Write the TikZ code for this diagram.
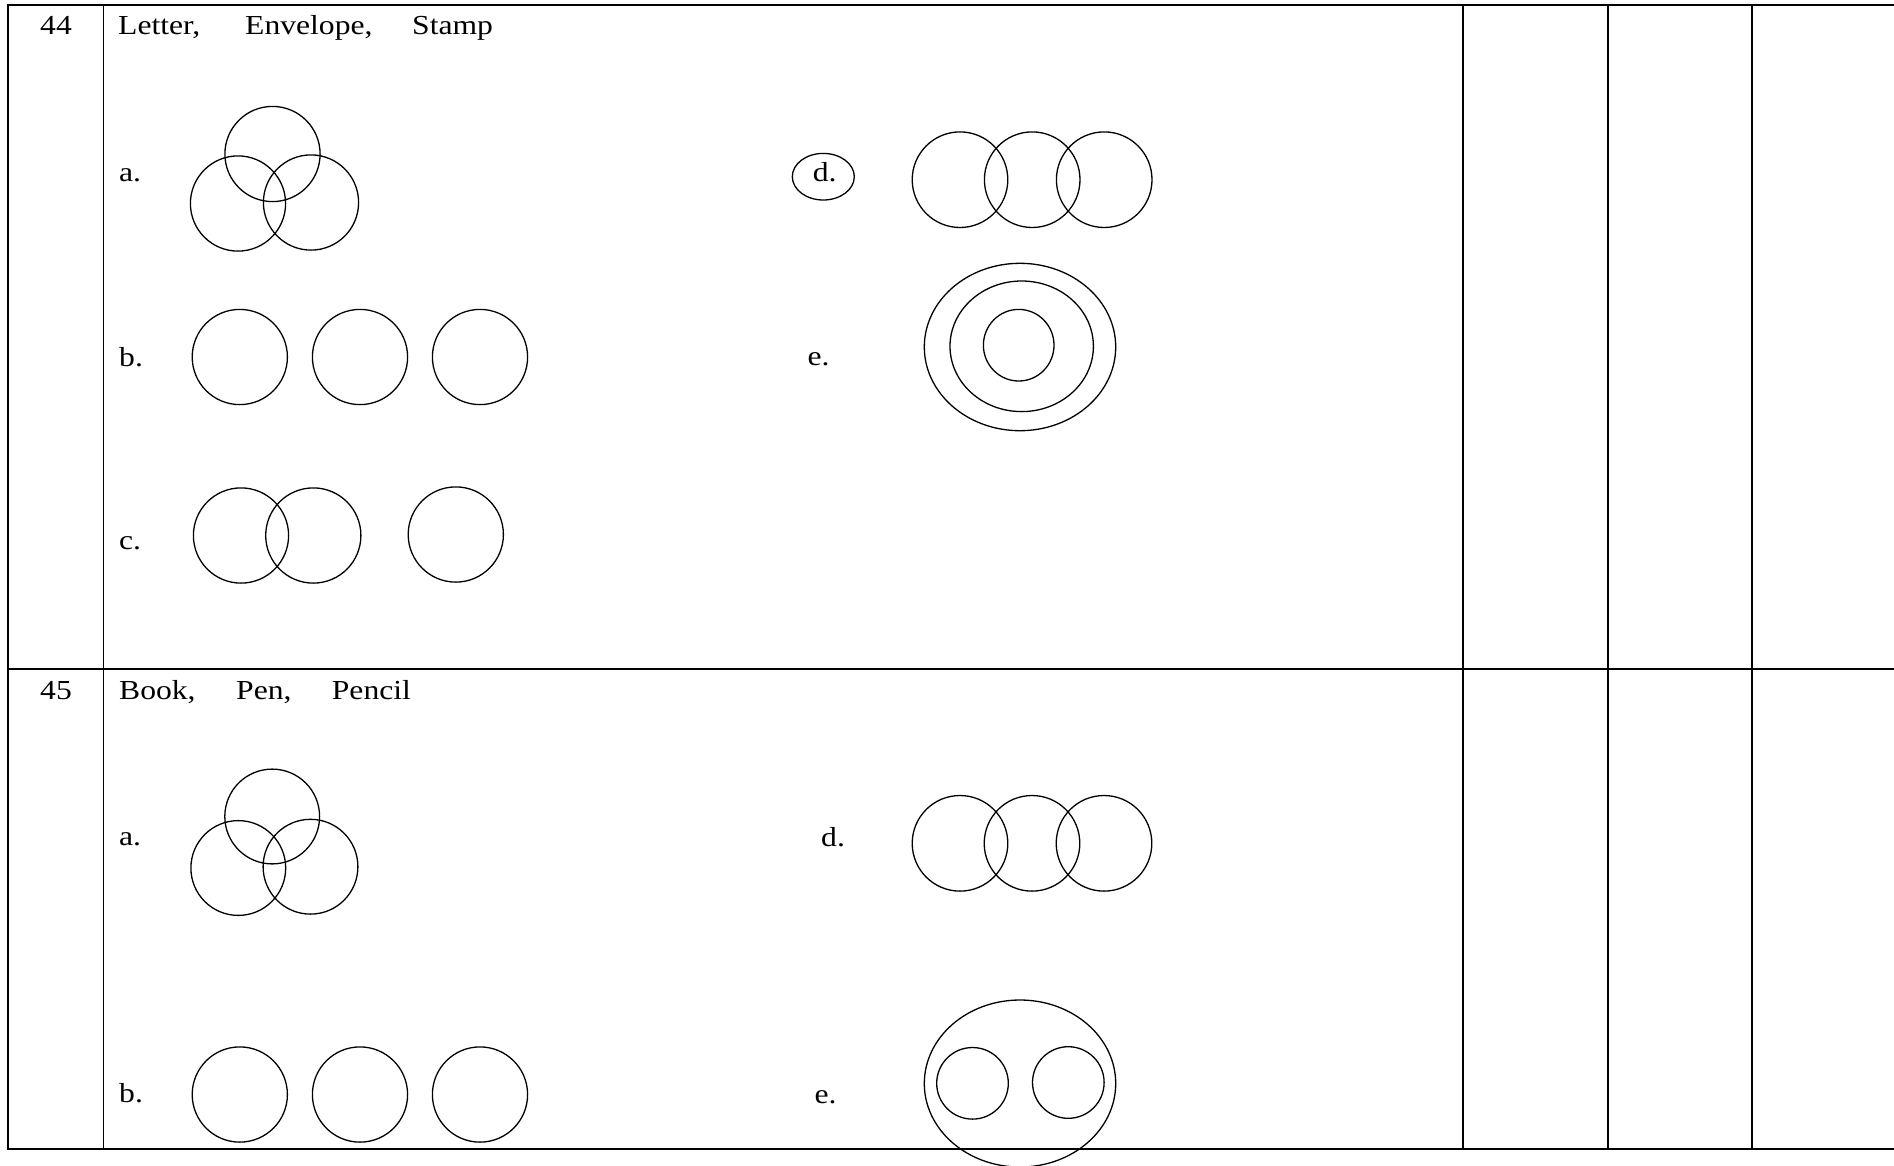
\documentclass[tikz,border=0pt]{standalone}
\usepackage{graphicx}
\usepackage{fontspec}
\setmainfont{Liberation Serif}
\newcommand{\wtxt}[1]{\scalebox{1.15}[1]{#1}}
\tikzset{
  lbl/.style={anchor=base west, inner sep=0pt, font=\fontsize{27.5}{32}\selectfont},
  tab/.style={line width=1.7pt, line cap=rect},
  ring/.style={line width=1.3pt}
}
\begin{document}
\begin{tikzpicture}[x=1pt,y=-1pt]
\useasboundingbox (0,0) rectangle (1894,1165);
% table
\draw[tab] (1894,5) -- (8.3,5) -- (8.3,1149) -- (1894,1149);
\draw[tab] (8.3,669) -- (1894,669);
\foreach \xx in {103.5,1463.3,1607.7,1751.7} \draw[tab] (\xx,5) -- (\xx,1149);

% ---- row 44
\node[lbl] (n44) at (40,34.5) {\wtxt{44}};
\node[lbl] (w1) at (118,34.5) {\wtxt{Letter,}};
\node[lbl] (w2) at (245,34.5) {\wtxt{Envelope,}};
\node[lbl] (w3) at (412,34.5) {\wtxt{Stamp}};

\node[lbl] (a1) at (119,181) {\wtxt{a.}};
\draw[ring] (272.5,154) circle[radius=47.6];
\draw[ring] (238,203.5) circle[radius=47.6];
\draw[ring] (311,202.5) circle[radius=47.6];

\node[lbl] (b1) at (119,366) {\wtxt{b.}};
\foreach \xx in {239.8,360,480} \draw[ring] (\xx,357) circle[radius=47.6];

\node[lbl] (c1) at (119,549) {\wtxt{c.}};
\draw[ring] (241,535.5) circle[radius=47.6];
\draw[ring] (313.3,535.5) circle[radius=47.6];
\draw[ring] (455.8,534.5) circle[radius=47.6];

\node[lbl] (d1) at (812.7,181.7) {\wtxt{d.}};
\draw[ring] (823.3,176.7) ellipse[x radius=31, y radius=23.3];
\foreach \xx in {960,1032.2,1104.2} \draw[ring] (\xx,179.7) circle[radius=47.8];

\node[lbl] (e1) at (807.3,365.7) {\wtxt{e.}};
\draw[ring] (1020,347) ellipse[x radius=95.7, y radius=83.7];
\draw[ring] (1021.7,346.3) ellipse[x radius=71.7, y radius=65.3];
\draw[ring] (1018.7,345.2) ellipse[x radius=35.3, y radius=35.8];

% ---- row 45
\node[lbl] (n45) at (40,699.3) {\wtxt{45}};
\node[lbl] (v1) at (119,699.3) {\wtxt{Book,}};
\node[lbl] (v2) at (236,699.3) {\wtxt{Pen,}};
\node[lbl] (v3) at (331.7,699.3) {\wtxt{Pencil}};

\node[lbl] (a2) at (119,845) {\wtxt{a.}};
\draw[ring] (272.2,816.5) circle[radius=47.4];
\draw[ring] (238.3,868) circle[radius=47.4];
\draw[ring] (310.5,866.7) circle[radius=47.4];

\node[lbl] (b2) at (119,1102.7) {\wtxt{b.}};
\foreach \xx in {239.8,360,480} \draw[ring] (\xx,1094.5) circle[radius=47.6];

\node[lbl] (d2) at (821,846) {\wtxt{d.}};
\foreach \xx in {960,1032,1104} \draw[ring] (\xx,843.3) circle[radius=47.8];

\node[lbl] (e2) at (814.3,1103.3) {\wtxt{e.}};
\draw[ring] (1020,1083.5) ellipse[x radius=95.7, y radius=83.5];
\draw[ring] (972.5,1083.3) circle[radius=35.8];
\draw[ring] (1068.3,1082.5) circle[radius=35.8];
\end{tikzpicture}
\end{document}
